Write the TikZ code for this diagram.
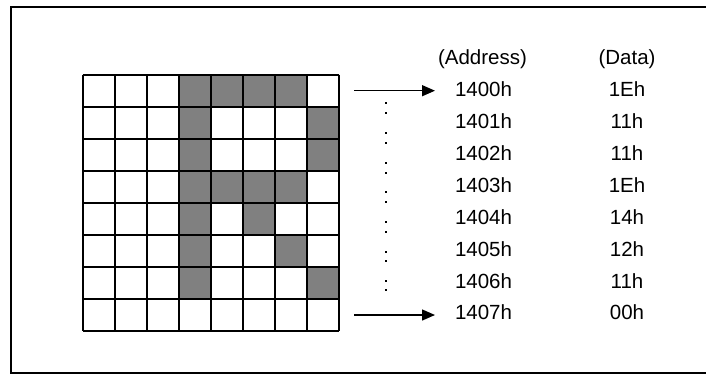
\documentclass[tikz,border=0pt]{standalone}
\usepackage{fontspec}
\setmainfont{Liberation Sans}
\usetikzlibrary{arrows.meta}
\definecolor{cellgray}{HTML}{808080}
\tikzset{
  frameline/.style={line width=2pt, black},
  gridline/.style={line width=2pt, black},
  oncell/.style={fill=cellgray},
  lbl/.style={font=\fontsize{20.5}{24}\selectfont, inner sep=0pt, anchor=base},
  ptr/.style={line width=1.4pt, -{Triangle[length=13pt,width=11pt]}},
  dotmark/.style={fill=black},
}
\begin{document}
\begin{tikzpicture}[x=1pt,y=-1pt]
\useasboundingbox (0,0) rectangle (706,375);
% frame (open at the right edge)
\draw[frameline] (708,7) -- (11,7) -- (11,373) -- (708,373);
% filled cells: row/col
\foreach \r/\c in {0/3,0/4,0/5,0/6,1/3,1/7,2/3,2/7,3/3,3/4,3/5,3/6,4/3,4/5,5/3,5/6,6/3,6/7}{
  \fill[oncell] (82.5+32*\c,74.5+32*\r) rectangle ++(32,32);
}
% grid lines
\foreach \i in {0,...,8}{
  \draw[gridline] (82.5+32*\i,74.5) -- (82.5+32*\i,330.5);
  \draw[gridline] (82.5,74.5+32*\i) -- (338.5,74.5+32*\i);
}
% headers
\node[lbl] (hA) at (482.5,64.0) {(Address)};
\node[lbl] (hD) at (627,64.0) {(Data)};
% rows
\foreach \i/\a/\d in {0/1400h/1Eh,1/1401h/11h,2/1402h/11h,3/1403h/1Eh,4/1404h/14h,5/1405h/12h,6/1406h/11h,7/1407h/00h}{
  \node[lbl] (a\i) at (483.5,96.6+31.9*\i) {\a};
  \node[lbl] (d\i) at (627,96.6+31.9*\i) {\d};
}
% pointers
\coordinate (s0) at (354,90.7);
\coordinate (e0) at (435,90.7);
\coordinate (s7) at (354,315);
\coordinate (e7) at (435,315);
\draw[ptr] (s0) -- (e0);
\draw[ptr] (s7) -- (e7);
% vertical dots
\foreach \y in {103.3,112.7,133.3,142.7,163.3,172.7,192.3,201.7,222.3,231.7,251.7,261,281,290}{
  \fill[dotmark] (385,\y-1) rectangle ++(2,2);
}
\end{tikzpicture}
\end{document}
